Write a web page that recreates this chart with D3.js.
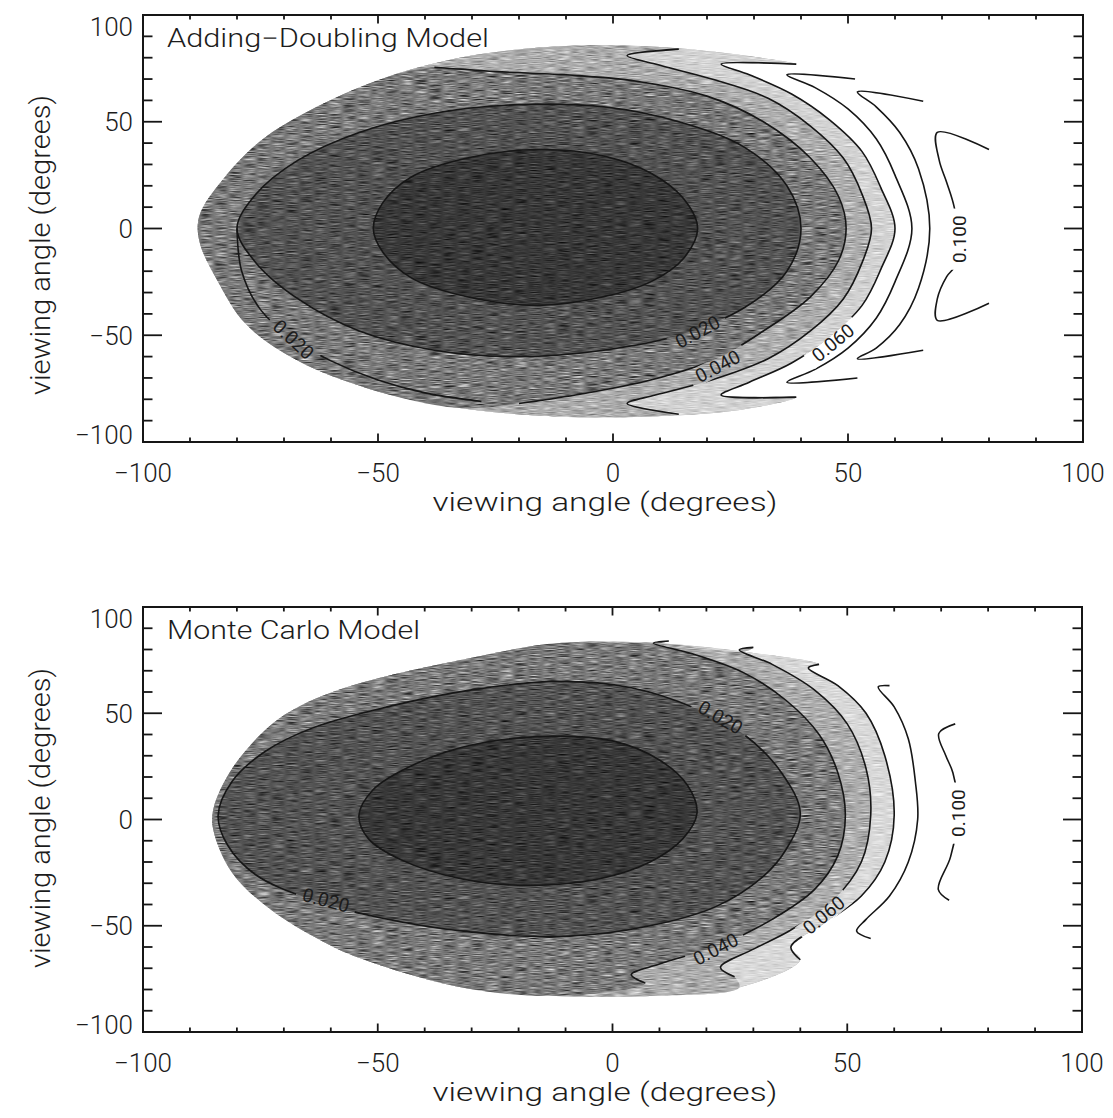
<!DOCTYPE html>
<html><head><meta charset="utf-8">
<script src="https://cdn.jsdelivr.net/npm/d3@7"></script>
<style>
html,body{margin:0;padding:0;background:#fff;}
svg{display:block;}
text{font-family:"Roboto","Liberation Sans",sans-serif;font-weight:300;fill:#1c1c1c;}
</style></head><body>
<svg id="chart" width="1113" height="1118"></svg>
<script>
// ---------------- data (degrees) ----------------
const xTicks = [-100, -50, 0, 50, 100];
const yTicks = [-100, -50, 0, 50, 100];
const axisTitle = "viewing angle (degrees)";
const panelTitles = ["Adding\u2212Doubling Model", "Monte Carlo Model"];
const levels = [0.010, 0.020, 0.040, 0.050, 0.060, 0.070, 0.080, 0.100];

// Adding-Doubling panel
const adDomain = [[88,0],[84,25],[75,45],[60,63],[45,74],[28,81],[10,85],[-10,85.5],[-30,81],[-48,71],[-63,57],[-75,41],[-83,23],[-88,6],[-88,-6],[-84,-25],[-78,-45],[-67,-62],[-52,-75],[-33,-84],[-12,-88],[8,-88],[27,-85],[44,-77],[60,-65],[75,-45],[84,-25]];
const adC010 = [[18,0],[15,-14],[8,-25],[-2,-32],[-16,-36],[-31,-32],[-43,-23],[-49,-11],[-51,0],[-49,12],[-43,24],[-31,33],[-16,37],[-2,34],[8,26],[15,14]];
const adC020 = [[40,0],[37,-20],[28,-37],[14,-50],[-2,-57],[-20,-60],[-38,-57],[-54,-48],[-67,-33],[-76,-16],[-80,0],[-76,16],[-67,32],[-54,45],[-38,54],[-20,58],[-2,57],[14,50],[28,38],[37,20]];
const adC020Lower = [[-80,0],[-79,-20],[-75,-38],[-68,-52],[-60,-62],[-50,-71],[-40,-77],[-28,-81]];
const adC040 = [[-38,75.5],[-25,73.5],[-10,72],[5,69],[20,62],[32,50],[42,33],[48,15],[49.6,0],[48,-15],[42,-32],[32,-48],[22,-61],[8,-71],[-8,-78],[-20,-82]];
const adC050 = [[14,84],[3,81],[9,77],[21,70],[33,61],[42,48],[49,33],[53,16],[55,0],[53,-16],[49,-33],[42,-48],[33,-61],[21,-71],[9,-78],[3,-82],[14,-87]];
const adC060 = [[39,77],[23,77],[29,72],[38,63],[46,51],[53,36],[57,19],[60,0],[57,-19],[53,-36],[46,-51],[38,-63],[29,-72],[23,-78],[39,-79]];
const adC070 = [[51.5,70],[37,72],[43,66],[50,56],[56,42],[60,25],[63.6,0],[60,-25],[56,-42],[50,-56],[43,-66],[37,-72],[52,-70]];
const adC080 = [[66,59.6],[52,64],[56,57],[61,45],[65,28],[67.4,0],[65,-28],[61,-45],[56,-56],[52,-61],[66,-57]];
const adC100 = [[80,37],[69,45],[69.4,32],[71,21.6],[72.6,10],[73.4,-5],[72.6,-18],[71,-22.5],[69,-33],[69,-43],[80,-35]];
const adLabelText = ["0.020", "0.020", "0.040", "0.060", "0.100"];
const adLabelX = [-68, 18, 22.3, 46.8, 73.6];
const adLabelY = [-52, -48.4, -64.5, -53.5, -5];
const adLabelAngle = [43, -28, -28, -39, -90];

// Monte Carlo panel
const mcDomain = [[84,0],[80,22],[72,42],[60,60],[45,71],[28,79],[10,83],[-12,83],[-28,77],[-54,64],[-66,54],[-73,44],[-81,24],[-85,5],[-85,-5],[-81,-25],[-73,-42],[-62,-57],[-54,-65],[-32,-79],[-12,-83],[8,-83],[27,-79],[44,-70],[58,-60],[72,-42],[80,-22]];
const mcC010 = [[18,3],[15,-9],[8,-20],[-3,-28],[-18,-31],[-32,-28],[-45,-19],[-52,-9],[-54,2],[-51,14],[-44,24],[-32,34],[-16,39],[0,37],[10,28],[16,16]];
const mcC020 = [[40,3],[37,-14],[32,-27],[22,-41],[8,-50],[-10,-55],[-30,-53],[-50,-46],[-65,-37],[-76,-26],[-82,-12],[-84,2],[-81,18],[-74,32],[-64,43],[-48,53],[-30,61],[-12,65],[4,62],[18,52],[28,40],[36,22]];
const mcC040 = [[12,84],[8.7,83],[17,78],[28,69],[37,56],[44,40],[48,22],[49.6,2],[48,-17],[43,-33],[34,-47],[23,-59],[10,-68],[4,-73],[7,-77]];
const mcC060 = [[30,81],[27,79.8],[34,73],[43,61],[50,45],[54,24],[55,2],[53,-20],[47,-38],[38,-52],[30,-61],[23,-69.6],[26,-74]];
const mcC070 = [[44,73],[41.7,71.3],[48,63],[54,50],[58,30],[60,2],[58,-20],[53,-36],[45,-49],[38,-60],[40,-66]];
const mcC080 = [[59,63],[56.6,62.4],[60,53],[63,38],[64.5,18],[65,0],[63,-20],[59,-36],[54,-47],[52,-52.5],[55,-56]];
const mcC100 = [[73,45],[69.5,40.5],[71,30],[72.5,22],[73.6,3],[72,-17.6],[69.4,-33],[71.7,-38]];
const mcLabelText = ["0.020", "0.020", "0.040", "0.060", "0.100"];
const mcLabelX = [-61, 23, 22, 45, 73.6];
const mcLabelY = [-38, 48, -61, -45, 3];
const mcLabelAngle = [15, 30, -27, -40, -90];

// ---------------- build ----------------
const bandColor = {0.010:"#383838", 0.020:"#535353", 0.040:"#797979", 0.050:"#acacac", 0.060:"#d2d2d2", 0.070:"#d8d8d8"};

const panels = [
  {title: panelTitles[0], box:{l:143, r:1083, t:15, b:442}, domain: adDomain,
   fills: [{lv:0.060, pts:adC060}, {lv:0.050, pts:adC050}, {lv:0.040, pts:adC040}, {lv:0.020, pts:adC020, closed:true}, {lv:0.010, pts:adC010, closed:true}],
   lines: [{pts:adC010, closed:true},{pts:adC020, closed:true},{pts:adC020Lower},{pts:adC040},{pts:adC050},{pts:adC060},{pts:adC070},{pts:adC080},{pts:adC100}],
   labels: adLabelText.map((t,i)=>({t, x:adLabelX[i], y:adLabelY[i], a:adLabelAngle[i]})),
   titleY: 245},
  {title: panelTitles[1], box:{l:143, r:1082, t:607, b:1032}, domain: mcDomain,
   fills: [{lv:0.070, pts:mcC070}, {lv:0.050, pts:mcC060}, {lv:0.040, pts:mcC040}, {lv:0.020, pts:mcC020, closed:true}, {lv:0.010, pts:mcC010, closed:true}],
   lines: [{pts:mcC010, closed:true},{pts:mcC020, closed:true},{pts:mcC040},{pts:mcC060},{pts:mcC070},{pts:mcC080},{pts:mcC100}],
   labels: mcLabelText.map((t,i)=>({t, x:mcLabelX[i], y:mcLabelY[i], a:mcLabelAngle[i]})),
   titleY: 818}
];

const svg = d3.select("#chart");
const defs = svg.append("defs");
const grain = defs.append("filter").attr("id","grain").attr("x",0).attr("y",0).attr("width",1).attr("height",1)
  .attr("color-interpolation-filters","sRGB");
grain.append("feTurbulence").attr("type","fractalNoise").attr("baseFrequency","0.07 1.0").attr("numOctaves",2).attr("seed",5).attr("result","n");
grain.append("feColorMatrix").attr("in","n").attr("type","matrix")
  .attr("values","0.6 0.6 0.6 0 -0.4  0.6 0.6 0.6 0 -0.4  0.6 0.6 0.6 0 -0.4  0 0 0 0 1").attr("result","g");
grain.append("feBlend").attr("in","g").attr("in2","SourceGraphic").attr("mode","overlay").attr("result","b");
grain.append("feComposite").attr("in","b").attr("in2","SourceGraphic").attr("operator","in");

const ang = p => { let a = Math.atan2(p[1], p[0]) * 180 / Math.PI; return a < 0 ? a + 360 : a; };
function region(f, domain) {
  if (f.closed) return f.pts;
  const a1 = ang(f.pts[0]), a2 = ang(f.pts[f.pts.length - 1]);
  const arc = domain.filter(p => { const a = ang(p); return a > a1 && a < a2; }).sort((p, q) => ang(q) - ang(p));
  return f.pts.concat(arc);
}

panels.forEach((P, pi) => {
  const x = d3.scaleLinear().domain([-100, 100]).range([P.box.l, P.box.r]);
  const y = d3.scaleLinear().domain([-100, 100]).range([P.box.b, P.box.t]);
  const W = P.box.r - P.box.l, H = P.box.b - P.box.t;
  const g = svg.append("g");

  defs.append("clipPath").attr("id", "clip" + pi).append("rect")
    .attr("x", P.box.l).attr("y", P.box.t).attr("width", W).attr("height", H);

  const lineOpen = d3.line().x(d => x(d[0])).y(d => y(d[1])).curve(d3.curveCatmullRom.alpha(0.5));
  const lineClosed = d3.line().x(d => x(d[0])).y(d => y(d[1])).curve(d3.curveCatmullRomClosed.alpha(0.5));

  // fills
  const fg = g.append("g").attr("clip-path", `url(#clip${pi})`).attr("filter", "url(#grain)");
  P.fills.forEach(f => {
    fg.append("path").attr("d", lineClosed(region(f, P.domain))).attr("fill", bandColor[f.lv]).attr("stroke", "none");
  });

  // label mask
  const fs = 19;
  const m = defs.append("mask").attr("id", "mask" + pi).attr("maskUnits", "userSpaceOnUse")
    .attr("x", 0).attr("y", 0).attr("width", 1113).attr("height", 1118);
  m.append("rect").attr("x", 0).attr("y", 0).attr("width", 1113).attr("height", 1118).attr("fill", "white");
  P.labels.forEach(l => {
    const w = l.t.length * fs * 0.56 + 8, h = fs * 0.95;
    m.append("rect").attr("x", -w / 2).attr("y", -h / 2).attr("width", w).attr("height", h)
      .attr("transform", `translate(${x(l.x)},${y(l.y)}) rotate(${l.a})`).attr("fill", "black");
  });

  const lg = g.append("g").attr("clip-path", `url(#clip${pi})`).append("g").attr("mask", `url(#mask${pi})`);
  P.lines.forEach(L => {
    lg.append("path").attr("d", L.closed ? lineClosed(L.pts) : lineOpen(L.pts))
      .attr("fill", "none").attr("stroke", "#161616").attr("stroke-width", 1.6).attr("stroke-linejoin", "round");
  });

  P.labels.forEach(l => {
    g.append("text").attr("transform", `translate(${x(l.x)},${y(l.y)}) rotate(${l.a})`)
      .attr("text-anchor", "middle").attr("dy", "0.35em").attr("font-size", fs).style("font-weight", 400).text(l.t);
  });

  // frame
  g.append("rect").attr("x", P.box.l).attr("y", P.box.t).attr("width", W).attr("height", H)
    .attr("fill", "none").attr("stroke", "#161616").attr("stroke-width", 2);

  // ticks
  const ticks = d3.range(-100, 101, 10);
  const tg = g.append("g").attr("stroke", "#161616").attr("stroke-width", 1.8);
  ticks.forEach(v => {
    const major = v % 50 === 0;
    const ly = major ? 19 : 9.5, lx = major ? 8.5 : 4.5;
    tg.append("line").attr("x1", x(v)).attr("x2", x(v)).attr("y1", P.box.b).attr("y2", P.box.b - lx);
    tg.append("line").attr("x1", x(v)).attr("x2", x(v)).attr("y1", P.box.t).attr("y2", P.box.t + lx);
    tg.append("line").attr("y1", y(v)).attr("y2", y(v)).attr("x1", P.box.l).attr("x2", P.box.l + ly);
    tg.append("line").attr("y1", y(v)).attr("y2", y(v)).attr("x1", P.box.r).attr("x2", P.box.r - ly);
  });

  const fmt = v => (v < 0 ? "\u2212" : "") + Math.abs(v);
  xTicks.forEach(v => {
    g.append("text").attr("x", x(v)).attr("y", P.box.b + 40).attr("text-anchor", "middle")
      .attr("font-size", 26).text(fmt(v));
  });
  yTicks.forEach(v => {
    const off = v === 100 ? 12 : (v === -100 ? -7 : 0);
    g.append("text").attr("x", P.box.l - 10).attr("y", y(v) + off).attr("dy", "0.36em")
      .attr("text-anchor", "end").attr("font-size", 26).text(fmt(v));
  });

  // axis titles
  g.append("text").attr("x", 605).attr("y", P.box.b + 69).attr("text-anchor", "middle")
    .attr("font-size", 25).attr("textLength", 345).attr("lengthAdjust", "spacingAndGlyphs").text(axisTitle);
  g.append("text").attr("transform", `translate(50,${P.titleY}) rotate(-90)`).attr("text-anchor", "middle")
    .attr("font-size", 27).attr("textLength", 300).attr("lengthAdjust", "spacingAndGlyphs").text(axisTitle);

  // panel title
  g.append("text").attr("x", 167).attr("y", P.box.t + 32).attr("font-size", 25)
    .attr("textLength", pi === 0 ? 322 : 253).attr("lengthAdjust", "spacingAndGlyphs").text(P.title);
});
</script>
</body></html>
